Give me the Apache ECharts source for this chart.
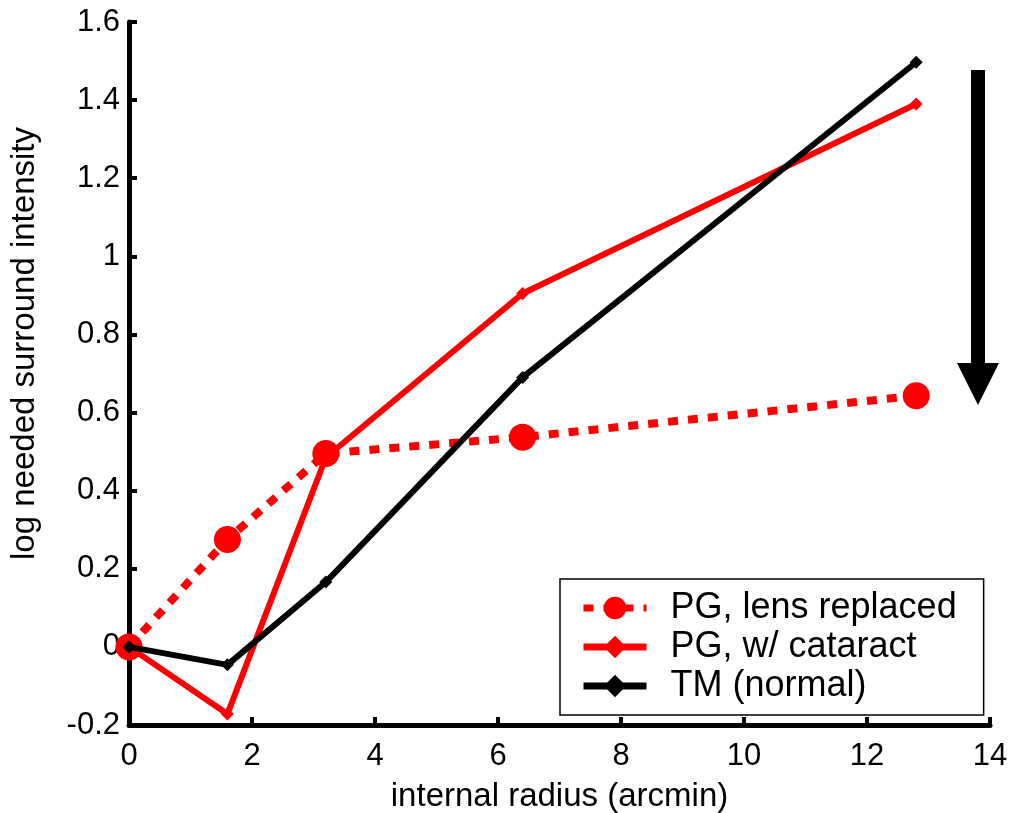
<!DOCTYPE html>
<html>
<head>
<meta charset="utf-8">
<script src="https://cdn.jsdelivr.net/npm/echarts@6/dist/echarts.min.js"></script>
<style>
html,body{margin:0;padding:0;background:#fff;}
#chart{width:1011px;height:813px;}
</style>
</head>
<body>
<div id="chart"></div>
<script>
const radius = [0, 1.6, 3.2, 6.4, 12.8];
const lensReplaced = [0, 0.275, 0.495, 0.537, 0.643];
const cataract = [0, -0.172, 0.485, 0.905, 1.39];
const normal = [0, -0.046, 0.166, 0.69, 1.497];
const seriesNames = ['PG, lens replaced', 'PG, w/ cataract', 'TM (normal)'];

const FONT = '"Liberation Sans", Arial, sans-serif';
const pairs = ys => radius.map((x, i) => [x, ys[i]]);

const chart = echarts.init(document.getElementById('chart'), null, {renderer: 'canvas'});
chart.setOption({
  animation: false,
  backgroundColor: '#fff',
  textStyle: {fontFamily: FONT, color: '#000'},
  grid: {left: 129, right: 21, top: 22, bottom: 88, containLabel: false, outerBoundsMode: 'none'},
  xAxis: {
    type: 'value', min: 0, max: 14, interval: 2,
    name: 'internal radius (arcmin)', nameLocation: 'middle', nameGap: 55,
    nameTextStyle: {fontFamily: FONT, fontSize: 33, color: '#000'},
    axisLine: {show: true, onZero: false, lineStyle: {color: '#000', width: 5}},
    axisTick: {show: true, inside: true, length: 8, lineStyle: {color: '#000', width: 4}},
    axisLabel: {fontFamily: FONT, fontSize: 31, color: '#000', margin: 16},
    splitLine: {show: false}
  },
  yAxis: {
    type: 'value', min: -0.2, max: 1.6, interval: 0.2,
    name: 'log needed surround intensity', nameLocation: 'middle', nameGap: 88, nameRotate: 90,
    nameTextStyle: {fontFamily: FONT, fontSize: 33, color: '#000', padding: [0, 0, 0, 60]},
    axisLine: {show: true, onZero: false, lineStyle: {color: '#000', width: 5}},
    axisTick: {show: true, inside: true, length: 8, lineStyle: {color: '#000', width: 4}},
    axisLabel: {fontFamily: FONT, fontSize: 31, color: '#000', margin: 9,
      formatter: v => String(Math.round(v * 10) / 10)},
    splitLine: {show: false}
  },
  legend: {
    show: true, orient: 'vertical', left: 560, top: 579,
    padding: [11, 27, 11, 20],
    backgroundColor: '#fff', borderColor: '#000', borderWidth: 1.5,
    itemWidth: 63, itemHeight: 28, itemGap: 3,
    lineStyle: {width: 7},
    textStyle: {fontFamily: FONT, fontSize: 36, color: '#000', lineHeight: 34, padding: [0, 0, 0, 19]},
    data: seriesNames
  },
  series: [
    {
      name: seriesNames[0], type: 'line', data: pairs(lensReplaced),
      symbol: 'circle', symbolSize: 27, z: 3,
      lineStyle: {color: '#ff0000', width: 8, type: [10, 10]},
      itemStyle: {color: '#ff0000'}
    },
    {
      name: seriesNames[1], type: 'line', data: pairs(cataract),
      symbol: 'diamond', symbolSize: 13, z: 4,
      lineStyle: {color: '#ff0000', width: 6},
      itemStyle: {color: '#ff0000'}
    },
    {
      name: seriesNames[2], type: 'line', data: pairs(normal),
      symbol: 'diamond', symbolSize: 13, z: 5,
      lineStyle: {color: '#000', width: 6},
      itemStyle: {color: '#000'}
    }
  ],
  graphic: [
    {type: 'rect', shape: {x: 971, y: 70, width: 14, height: 296}, style: {fill: '#000'}},
    {type: 'polygon', shape: {points: [[957, 363], [999, 363], [978, 405]]}, style: {fill: '#000'}}
  ]
});
</script>
</body>
</html>
